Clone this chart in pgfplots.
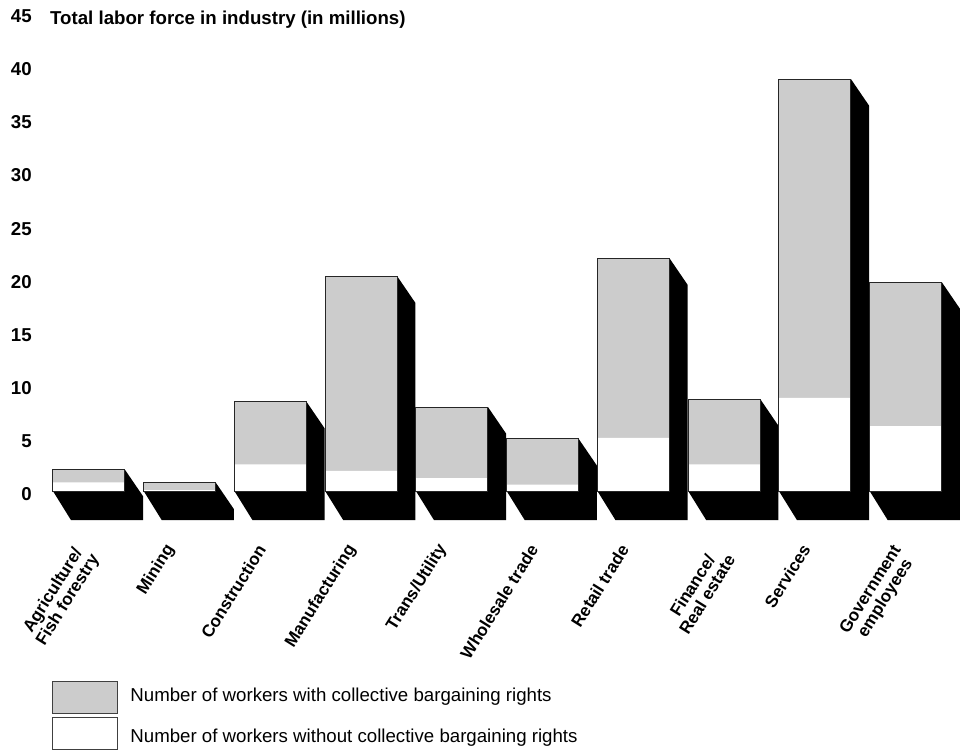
\documentclass[border=0pt]{standalone}
\usepackage{fontspec}
\setmainfont{Liberation Sans}
\usepackage{pgfplots}
\usepackage{pgfplotstable}
\pgfplotsset{compat=1.18}
\definecolor{bargray}{HTML}{CCCCCC}
\pgfplotstableread{
x total without
0 2.0 0.8
1 0.8 0.08
2 8.4 2.5
3 20.2 1.9
4 7.9 1.2
5 4.9 0.6
6 21.9 5.0
7 8.65 2.5
8 38.75 8.75
9 19.66 6.1
}\laborData
\begin{document}
\begin{tikzpicture}
\path[use as bounding box] (0,-165.75pt) rectangle (724.5pt,397.5pt);
\begin{axis}[
  at={(0,0)}, anchor=south west,
  scale only axis, width=724.5pt, height=397.5pt,
  xmin=-0.98, xmax=9.665, ymin=-3.67, ymax=46.19,
  clip=false,
  axis line style={draw=none},
  tick style={draw=none},
  /pgf/number format/assume math mode=true,
  ytick={0,5,10,15,20,25,30,35,40,45},
  yticklabel style={font=\bfseries\fontsize{14}{16}\selectfont, anchor=east, xshift=24pt, yshift=-2.5pt, inner sep=0pt},
  xtick={0,...,9},
  xticklabels={{\rule{0pt}{11pt}\\Agriculture/\\Fish forestry},Mining,Construction,Manufacturing,Trans/Utility,Wholesale trade,Retail trade,{\rule{0pt}{11pt}\\Finance/\\Real estate},Services,{\rule{0pt}{11pt}\\Government\\employees}},
  xticklabel style={font=\bfseries\fontsize{12.8}{13}\selectfont, rotate=58, anchor=east, align=center, inner sep=0pt, yshift=-0.8pt, xshift=-13.8pt},
  legend style={draw=none, fill=none, at={(39pt,-113pt)}, anchor=north west, font=\fontsize{14}{16}\selectfont, legend cell align=left, row sep=2pt, inner sep=0pt},
  legend plot pos=left,
]
% 3D shadows
\addplot[fill=black,draw=none,forget plot] coordinates {(-0.397,0)(0.397,0)(0.397,2.0)(0.597,-0.5)(0.597,-2.75)(-0.197,-2.75)} -- cycle;
\addplot[fill=black,draw=none,forget plot] coordinates {(0.603,0)(1.397,0)(1.397,0.8)(1.597,-1.7)(1.597,-2.75)(0.803,-2.75)} -- cycle;
\addplot[fill=black,draw=none,forget plot] coordinates {(1.603,0)(2.397,0)(2.397,8.4)(2.597,5.9)(2.597,-2.75)(1.803,-2.75)} -- cycle;
\addplot[fill=black,draw=none,forget plot] coordinates {(2.603,0)(3.397,0)(3.397,20.2)(3.597,17.7)(3.597,-2.75)(2.803,-2.75)} -- cycle;
\addplot[fill=black,draw=none,forget plot] coordinates {(3.603,0)(4.397,0)(4.397,7.9)(4.597,5.4)(4.597,-2.75)(3.803,-2.75)} -- cycle;
\addplot[fill=black,draw=none,forget plot] coordinates {(4.603,0)(5.397,0)(5.397,4.9)(5.597,2.4)(5.597,-2.75)(4.803,-2.75)} -- cycle;
\addplot[fill=black,draw=none,forget plot] coordinates {(5.603,0)(6.397,0)(6.397,21.9)(6.597,19.4)(6.597,-2.75)(5.803,-2.75)} -- cycle;
\addplot[fill=black,draw=none,forget plot] coordinates {(6.603,0)(7.397,0)(7.397,8.65)(7.597,6.15)(7.597,-2.75)(6.803,-2.75)} -- cycle;
\addplot[fill=black,draw=none,forget plot] coordinates {(7.603,0)(8.397,0)(8.397,38.75)(8.597,36.25)(8.597,-2.75)(7.803,-2.75)} -- cycle;
\addplot[fill=black,draw=none,forget plot] coordinates {(8.603,0)(9.397,0)(9.397,19.66)(9.597,17.16)(9.597,-2.75)(8.803,-2.75)} -- cycle;
% bars
\addplot[ybar, bar width=54pt, bar shift=0pt, fill=bargray, draw=none, forget plot] table[x=x,y=total] {\laborData};
\addplot[ybar, bar width=54pt, bar shift=0pt, fill=white, draw=none, forget plot] table[x=x,y=without] {\laborData};
\addplot[ybar, bar width=54pt, bar shift=0pt, fill=none, draw=black!85, line width=0.7pt, forget plot] table[x=x,y=total] {\laborData};
% legend
\addlegendimage{legend image code/.code={\draw[fill=bargray,draw=black!75,line width=0.8pt] (0pt,-13pt) rectangle (48.5pt,11pt); \path (56pt,0pt);}}
\addlegendentry{Number of workers with collective bargaining rights}
\addlegendimage{legend image code/.code={\draw[fill=white,draw=black!75,line width=0.8pt] (0pt,-9.5pt) rectangle (48.5pt,14.5pt); \path (56pt,0pt);}}
\addlegendentry{Number of workers without collective bargaining rights}
\node[anchor=west, inner sep=0pt, font=\bfseries\fontsize{14}{16}\selectfont] at (axis cs:-0.43,44.3) {Total labor force in industry (in millions)};
\end{axis}
\end{tikzpicture}
\end{document}
